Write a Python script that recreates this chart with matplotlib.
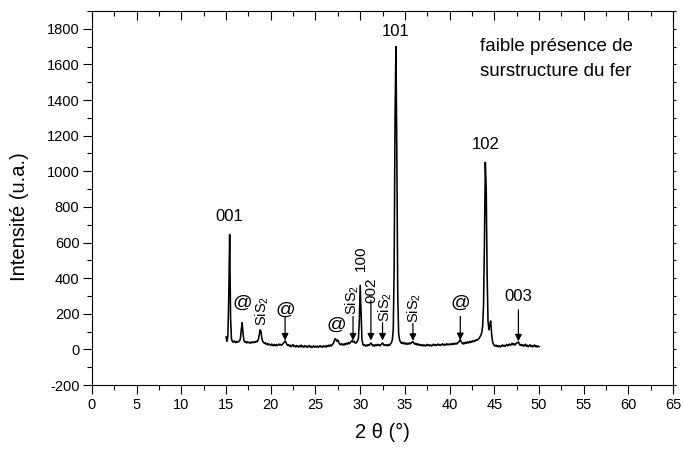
import numpy as np
import matplotlib
matplotlib.use("Agg")
import matplotlib.pyplot as plt
from matplotlib.ticker import MultipleLocator

plt.rcParams['font.family'] = ['Liberation Sans', 'DejaVu Sans']
plt.rcParams['mathtext.default'] = 'regular'
plt.rcParams['axes.unicode_minus'] = False

# 2-theta scan grid (0.1 deg step, 15 -> 50 deg)
two_theta = np.round(np.arange(15.0, 50.0001, 0.1), 1)

intensity = [
    70, 45, 75, 300, 645, 180, 60, 45, 40, 48,
    42, 38, 45, 40, 44, 48, 60, 110, 150, 85,
    50, 40, 44, 36, 42, 38, 40, 35, 41, 37,
    43, 38, 42, 40, 46, 44, 55, 80, 110, 100,
    62, 45, 38, 34, 37, 28, 33, 25, 31, 27,
    22, 30, 24, 20, 28, 22, 27, 20, 25, 30,
    24, 28, 22, 30, 33, 40, 48, 38, 28, 22,
    26, 18, 24, 15, 22, 27, 16, 20, 14, 22,
    18, 12, 20, 16, 24, 14, 18, 12, 21, 15,
    19, 11, 17, 22, 13, 18, 10, 16, 20, 12,
    17, 13, 19, 11, 16, 21, 14, 18, 12, 20,
    15, 19, 13, 22, 17, 24, 18, 25, 20, 28,
    35, 48, 60, 55, 45, 52, 40, 30, 26, 32,
    25, 30, 24, 33, 28, 35, 30, 38, 32, 40,
    45, 50, 42, 46, 38, 35, 40, 48, 60, 150,
    360, 200, 55, 30, 22, 26, 18, 24, 20, 27,
    22, 30, 36, 28, 20, 25, 18, 26, 21, 28,
    22, 27, 20, 25, 30, 36, 28, 22, 27, 21,
    26, 20, 28, 24, 32, 38, 55, 110, 450, 1300,
    1700, 1100, 320, 90, 55, 42, 35, 40, 32, 38,
    30, 36, 28, 34, 30, 37, 31, 35, 40, 44,
    36, 30, 34, 26, 31, 24, 29, 22, 27, 21,
    26, 20, 25, 19, 24, 28, 21, 26, 20, 25,
    19, 24, 29, 22, 27, 21, 26, 30, 23, 28,
    22, 27, 31, 24, 29, 23, 28, 32, 25, 30,
    26, 31, 27, 33, 28, 34, 29, 35, 30, 36,
    40, 48, 55, 42, 36, 30, 38, 32, 40, 34,
    42, 36, 44, 38, 46, 41, 48, 44, 50, 48,
    55, 52, 58, 62, 70, 80, 95, 130, 250, 600,
    1050, 900, 420, 160, 110, 140, 160, 90, 45, 30,
    22, 18, 24, 16, 21, 15, 20, 14, 19, 25,
    18, 23, 17, 22, 28, 20, 25, 30, 23, 27,
    35, 26, 32, 24, 30, 36, 38, 42, 30, 24,
    28, 20, 26, 18, 24, 29, 17, 23, 15, 21,
    26, 16, 22, 14, 20, 25, 15, 21, 13, 19,
    16,
]

# peak labels (horizontal)
peak_labels = ["001", "101", "102", "003"]
peak_label_x = [15.4, 34.0, 44.0, 47.7]
peak_label_y = [745, 1782, 1150, 296]

# rotated labels
rot_labels = ["SiS$_2$", "SiS$_2$", "100", "002", "SiS$_2$", "SiS$_2$"]
rot_label_x = [19.0, 29.1, 30.1, 31.2, 32.85, 36.05]
rot_label_y = [218, 279, 514, 330, 240, 235]

# "@" labels
at_x = [16.8, 21.6, 27.3, 41.2]
at_y = [257, 218, 134, 257]

# arrows (x, start, tip)
arrow_x = [21.6, 29.2, 31.2, 32.5, 35.9, 41.2, 47.7]
arrow_top = [185, 185, 275, 150, 145, 185, 222]
arrow_tip = [50, 50, 50, 50, 48, 52, 45]

fig = plt.figure(figsize=(6.84, 4.5), dpi=100)
ax = fig.add_axes([0.1345, 0.1444, 0.8495, 0.8312])

ax.plot(two_theta, intensity, color='black', lw=1.15)

ax.set_xlim(0, 65)
ax.set_ylim(-200, 1900)
ax.xaxis.set_major_locator(MultipleLocator(5))
ax.xaxis.set_minor_locator(MultipleLocator(2.5))
ax.yaxis.set_major_locator(MultipleLocator(200))
ax.yaxis.set_minor_locator(MultipleLocator(100))

ax.tick_params(which='both', direction='out', labelsize=10.5, width=0.8, pad=2.5)
ax.tick_params(which='major', length=6.5)
ax.tick_params(which='minor', length=3.6)
ax.tick_params(top=True, which='both')
ax.tick_params(right=True, which='both')
for s in ax.spines.values():
    s.set_linewidth(0.8)

# top ticks inward, right ticks short outward
for t in ax.xaxis.get_major_ticks() + ax.xaxis.get_minor_ticks():
    t.tick2line.set_marker(matplotlib.lines.TICKDOWN)
for t in ax.yaxis.get_major_ticks() + ax.yaxis.get_minor_ticks():
    t.tick2line.set_markersize(2.5)

ax.set_xlabel("2 θ (°)", fontsize=14.5, labelpad=8)
ax.set_ylabel("Intensité (u.a.)", fontsize=14.5)
ax.yaxis.set_label_coords(-0.108, 0.45)

for lab, x, y in zip(peak_labels, peak_label_x, peak_label_y):
    ax.text(x, y, lab, ha='center', va='center', fontsize=12)
for lab, x, y in zip(rot_labels, rot_label_x, rot_label_y):
    fs = 11 if lab.isdigit() else 10.5
    ax.text(x, y, lab, ha='center', va='center', fontsize=fs, rotation=90)
for x, y in zip(at_x, at_y):
    ax.text(x, y, "@", ha='center', va='center', fontsize=14)
for x, y0, y1 in zip(arrow_x, arrow_top, arrow_tip):
    ax.annotate("", xy=(x, y1), xytext=(x, y0),
                arrowprops=dict(arrowstyle='-|>', color='black', lw=0.9,
                                mutation_scale=10, shrinkA=0, shrinkB=0))

ax.text(51.9, 1630, "faible présence de\nsurstructure du fer", ha='center',
        va='center', fontsize=13.5, linespacing=1.55)

fig.savefig("out.png", dpi=100)
